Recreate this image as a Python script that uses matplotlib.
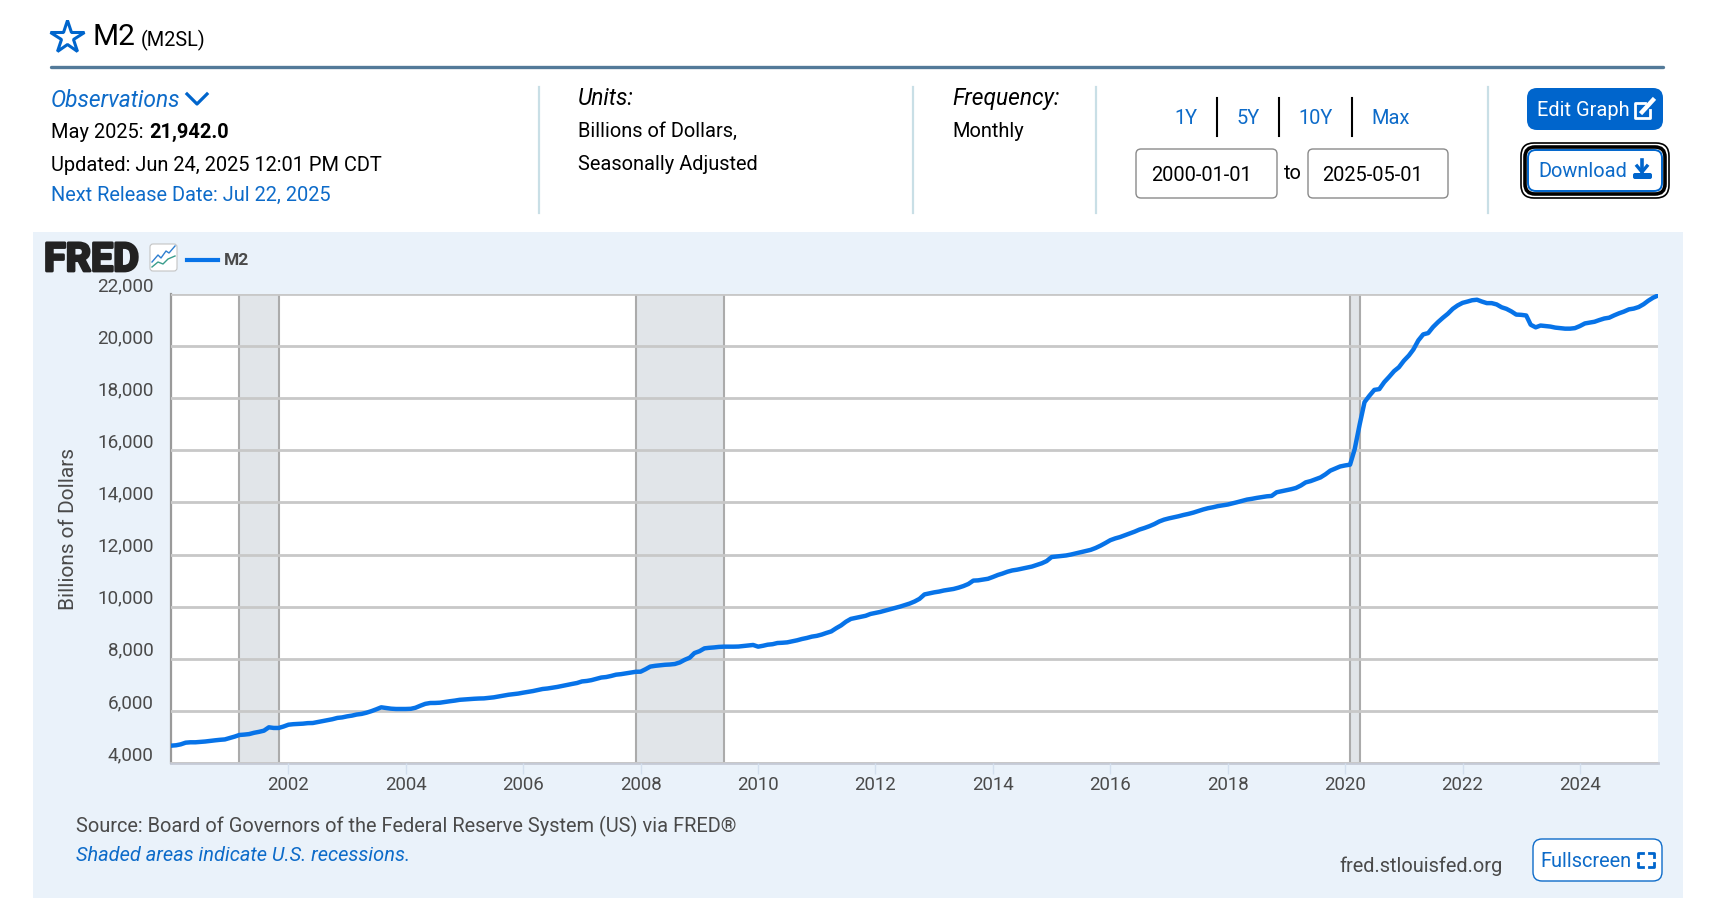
import matplotlib
matplotlib.use('Agg')
import matplotlib.pyplot as plt
import matplotlib.dates as mdates
import matplotlib.patheffects as pe
import pandas as pd
from matplotlib.patches import FancyBboxPatch, Rectangle

plt.rcParams['font.family'] = ['Roboto', 'DejaVu Sans']

# M2SL, monthly
m2_2000_2004 = [
    4665, 4680, 4715, 4780, 4795, 4795, 4810, 4825, 4850, 4870, 4890, 4905,
    4960, 5015, 5075, 5090, 5110, 5160, 5195, 5240, 5370, 5345, 5345, 5400,
    5470, 5490, 5500, 5510, 5530, 5535, 5570, 5610, 5640, 5680, 5730, 5750,
    5790, 5820, 5860, 5885, 5930, 5990, 6060, 6137, 6110, 6085, 6073, 6073,
    6073, 6080, 6120, 6200, 6270, 6303, 6305, 6315, 6345, 6370, 6395, 6425,
]
m2_2005_2009 = [
    6440, 6455, 6465, 6475, 6480, 6500, 6520, 6555, 6590, 6620, 6645, 6665,
    6700, 6730, 6760, 6800, 6840, 6860, 6890, 6920, 6960, 7000, 7035, 7070,
    7130, 7150, 7180, 7230, 7280, 7300, 7340, 7390, 7410, 7440, 7470, 7500,
    7505, 7600, 7700, 7730, 7750, 7770, 7780, 7800, 7860, 7960, 8040, 8220,
    8290, 8400, 8420, 8435, 8455, 8465, 8465, 8465, 8470, 8490, 8510, 8530,
]
m2_2010_2014 = [
    8465, 8500, 8540, 8560, 8605, 8615, 8630, 8670, 8710, 8760, 8800, 8850,
    8880, 8930, 8990, 9050, 9170, 9280, 9420, 9530, 9570, 9610, 9650, 9720,
    9760, 9800, 9850, 9900, 9950, 10000, 10060, 10120, 10200, 10300, 10470, 10510,
    10550, 10580, 10620, 10650, 10680, 10730, 10790, 10870, 11000, 11010, 11040, 11070,
    11140, 11217, 11270, 11340, 11390, 11420, 11460, 11500, 11540, 11600, 11665, 11750,
]
m2_2015_2019 = [
    11905, 11925, 11945, 11965, 12000, 12045, 12085, 12130, 12180, 12250, 12340, 12440,
    12550, 12620, 12670, 12740, 12810, 12880, 12960, 13020, 13090, 13170, 13270, 13340,
    13390, 13430, 13470, 13520, 13560, 13610, 13670, 13730, 13780, 13815, 13860, 13890,
    13920, 13965, 14010, 14060, 14110, 14140, 14175, 14205, 14235, 14250, 14390, 14430,
    14470, 14510, 14555, 14650, 14770, 14820, 14890, 14960, 15080, 15220, 15300, 15380,
]
m2_2020_2025 = [
    15420, 15450, 16050, 17000, 17850, 18100, 18320, 18350, 18620, 18820, 19040, 19190,
    19440, 19640, 19870, 20220, 20450, 20500, 20730, 20920, 21090, 21240, 21430, 21560,
    21660, 21710, 21760, 21780, 21710, 21650, 21650, 21600, 21490, 21430, 21330, 21210,
    21200, 21175, 20820, 20720, 20790, 20770, 20750, 20710, 20690, 20670, 20670, 20690,
    20770, 20870, 20900, 20935, 21000, 21060, 21090, 21180, 21260, 21325, 21410, 21440,
    21500, 21610, 21740, 21860, 21942,
]
m2_values = m2_2000_2004 + m2_2005_2009 + m2_2010_2014 + m2_2015_2019 + m2_2020_2025
m2_dates = pd.date_range('2000-01-01', periods=len(m2_values), freq='MS')

recession_starts = ['2001-03-01', '2007-12-01', '2020-02-01']
recession_ends = ['2001-11-01', '2009-06-01', '2020-04-01']
y_ticks = list(range(4000, 22001, 2000))
x_tick_years = list(range(2002, 2025, 2))

BLUE = '#0d6bc9'
BTN_BLUE = '#0065cc'
LINE_BLUE = '#0773e8'
PANEL = '#eaf2fa'
GRAY_TEXT = '#4a4a4a'

W, H = 1714, 912
fig = plt.figure(figsize=(W / 100, H / 100), dpi=100, facecolor='white')

# page furniture in pixel coordinates
bg = fig.add_axes([0, 0, 1, 1], zorder=0)
bg.set_xlim(0, W)
bg.set_ylim(H, 0)
bg.axis('off')


def txt(x, y, s, size=14.45, color='black', **kw):
    return bg.text(x, y, s, fontsize=size, color=color, va='baseline', **kw)


def box(x0, y0, x1, y1, rad=8, fc='white', ec='none', lw=1, **kw):
    p = FancyBboxPatch((x0 + rad, y0 + rad), x1 - x0 - 2 * rad, y1 - y0 - 2 * rad,
                       boxstyle='round,pad=%d,rounding_size=%d' % (rad, rad),
                       fc=fc, ec=ec, lw=lw, **kw)
    bg.add_patch(p)
    return p


# title row
bg.plot([67], [37.5], marker='*', ms=25, mfc='none', mec=BTN_BLUE, mew=2.2)
txt(93, 45, 'M2', size=21.5)
txt(141, 46, '(M2SL)', size=14.3)
bg.plot([51, 1663], [67.5, 67.5], color='#537a99', lw=2.4, solid_capstyle='round')

# info columns
txt(51, 107, 'Observations', size=16.4, color=BLUE, style='italic')
bg.plot([187, 197, 207], [95, 105, 95], color=BTN_BLUE, lw=2.3)
txt(51, 137.7, 'May 2025: ')
txt(149, 137.7, '21,942.0', weight='bold')
txt(51, 171, 'Updated: Jun 24, 2025 12:01 PM CDT')
txt(51, 201, 'Next Release Date: Jul 22, 2025', color=BLUE)

for sx in [539, 913, 1096, 1488]:
    bg.plot([sx, sx], [88, 214], color='#c9dfe6', lw=1.6)

txt(578, 105, 'Units:', size=16.4, style='italic')
txt(578, 136.7, 'Billions of Dollars,')
txt(578, 170, 'Seasonally Adjusted')
txt(952, 105, 'Frequency:', size=16.4, style='italic')
txt(952, 136.7, 'Monthly')

for cx, s in zip([1186, 1248, 1316, 1391], ['1Y', '5Y', '10Y', 'Max']):
    txt(cx, 124, s, color=BLUE, ha='center')
for dx in [1217, 1279, 1352]:
    bg.plot([dx, dx], [99, 137], color='black', lw=1.5)

box(1136, 150, 1277, 199, rad=5, ec='#8a8a8a', lw=1)
box(1308, 150, 1448, 199, rad=5, ec='#8a8a8a', lw=1)
txt(1151, 181, '2000-01-01')
txt(1322, 181, '2025-05-01')
txt(1293, 179, 'to', ha='center')

# edit / download buttons
box(1527, 89, 1663, 131, rad=10, fc=BTN_BLUE)
txt(1537.5, 116, 'Edit Graph', color='white')
bg.plot([1645, 1635, 1635, 1650, 1650], [104, 104, 119, 119, 111], color='white', lw=2)
bg.plot([1642, 1653], [113, 101], color='white', lw=3.2)

box(1521, 144, 1669, 199, rad=13, fc='white', ec='black', lw=1.2)
box(1525, 148, 1665, 195, rad=10, fc='white', ec='black', lw=2.6)
box(1528, 151, 1662, 192, rad=8, fc='white', ec=BTN_BLUE, lw=1.4)
txt(1538, 177, 'Download', color=BLUE)
bg.plot([1642, 1642], [161, 172], color=BTN_BLUE, lw=2.6)
bg.plot([1637, 1642, 1647], [167, 173, 167], color=BTN_BLUE, lw=2.4)
box(1633, 174, 1652, 180, rad=2, fc=BTN_BLUE)

# chart panel
bg.add_patch(Rectangle((33, 233), 1650, 666, fc=PANEL, ec='none'))

fred = txt(44, 272, 'FRED', size=28.5, color='#222222', weight='bold')
fred.set_path_effects([pe.withStroke(linewidth=2, foreground='#222222')])
box(150, 245, 177, 272, rad=3, fc='white', ec='#c4c4c4', lw=0.8)
bg.plot([152, 158, 161, 166, 169, 175], [263, 256, 259, 252, 254, 247], color='#2f7fd0', lw=1)
bg.plot([152, 158, 163, 168, 175], [268, 263, 265, 260, 257], color='#3a9d8c', lw=1)
bg.plot([187, 218], [260.7, 260.7], color=LINE_BLUE, lw=3)
txt(224, 265, 'M2', size=12.5, color=GRAY_TEXT, weight='bold')

txt(76, 832.5, 'Source: Board of Governors of the Federal Reserve System (US) via FRED®',
    size=14.42, color=GRAY_TEXT)
txt(76, 861.5, 'Shaded areas indicate U.S. recessions.', size=14.4, color=BLUE, style='italic')
txt(1339, 872, 'fred.stlouisfed.org', size=14.4, color=GRAY_TEXT)

box(1533, 840, 1662, 882, rad=9, fc='white', ec=BLUE, lw=1)
txt(1540, 866.7, 'Fullscreen', color=BLUE)
for bx, sx in [(1638, 1), (1654, -1)]:
    bg.plot([bx + 5 * sx, bx, bx], [854, 854, 858], color=BTN_BLUE, lw=2)
    bg.plot([bx + 5 * sx, bx, bx], [868, 868, 864], color=BTN_BLUE, lw=2)

# the chart itself
ax = fig.add_axes([171 / W, (H - 764) / H, (1658 - 171) / W, (764 - 295) / H], zorder=1)
ax.set_facecolor('white')

for start, end in zip(recession_starts, recession_ends):
    s, e = pd.Timestamp(start), pd.Timestamp(end)
    ax.axvspan(s, e, fc='#e1e5e9', ec='none', zorder=1)
    ax.axvline(s, color='#ababab', lw=1.5, zorder=1)
    ax.axvline(e, color='#ababab', lw=1.5, zorder=1)

ax.plot(m2_dates, m2_values, color=LINE_BLUE, lw=3.2, zorder=3,
        solid_joinstyle='round', clip_on=True)

ax.set_xlim(m2_dates[0], m2_dates[-1])
ax.set_ylim(4000, 22000)

ax.set_yticks(y_ticks)
ax.set_yticklabels(['{:,}'.format(v) for v in y_ticks], fontsize=13.6, color=GRAY_TEXT, va='bottom')
ax.set_xticks([pd.Timestamp(str(y) + '-01-01') for y in x_tick_years])
ax.xaxis.set_major_formatter(mdates.DateFormatter('%Y'))

ax.grid(axis='y', color='#c8c8c8', lw=2, zorder=2)
ax.set_axisbelow(False)
ax.tick_params(axis='y', length=0, pad=12.5)
ax.tick_params(axis='x', length=8, width=1, color='#d3dfee', pad=1, labelsize=13.4, labelcolor=GRAY_TEXT)

for side in ['top', 'right']:
    ax.spines[side].set_visible(False)
ax.spines['left'].set_color('#9a9a9a')
ax.spines['left'].set_linewidth(1.6)
ax.spines['bottom'].set_color('#c5cad6')
ax.spines['bottom'].set_linewidth(2)

bg.text(69, 529, 'Billions of Dollars', rotation=90, fontsize=15, color=GRAY_TEXT,
        ha='center', va='center')

fig.savefig('out.png', dpi=100)
